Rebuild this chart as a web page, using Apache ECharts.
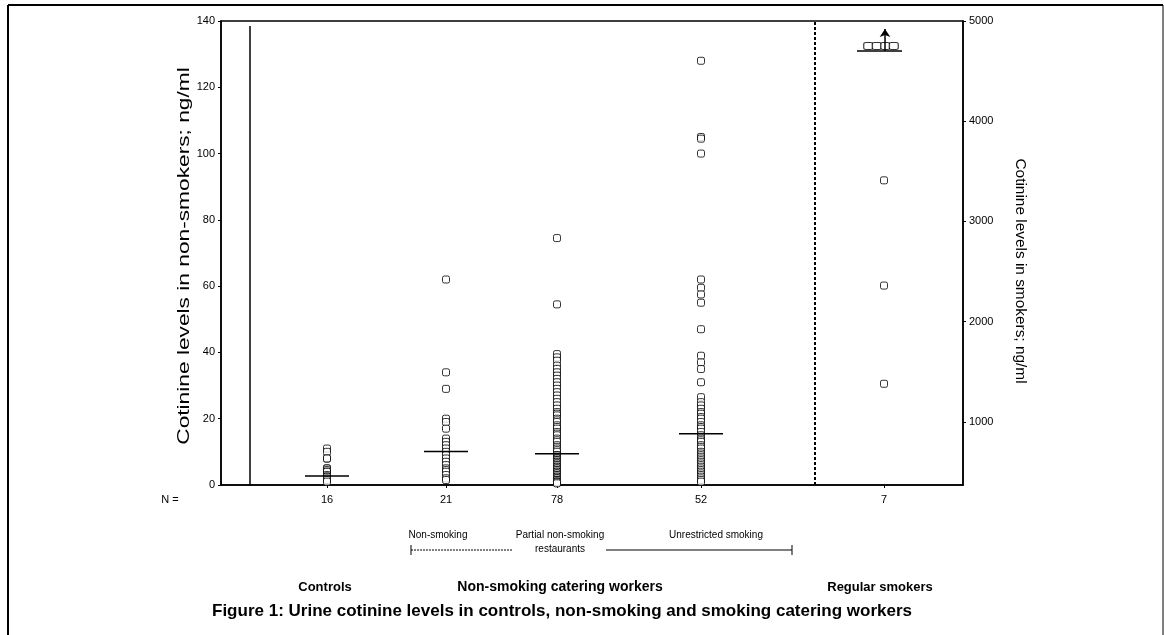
<!DOCTYPE html>
<html>
<head>
<meta charset="utf-8">
<script src="https://cdn.jsdelivr.net/npm/echarts@6/dist/echarts.min.js"></script>
<style>html,body{margin:0;padding:0;background:#fff;}#c{width:1164px;height:635px;}</style>
</head>
<body>
<div id="c"></div>
<script>
// ---- data ----
var groupNames = ['Controls', 'Non-smoking', 'Partial non-smoking', 'Unrestricted smoking', 'Regular smokers'];
var groupN = [16, 21, 78, 52, 7];
var groupPos = [106, 225, 336, 480, 663];          // horizontal slot of each group (x-axis units)
var controls = [11, 10, 8, 8, 5, 5, 4.5, 4, 4, 3, 2.5, 2.5, 2.5, 2, 1.5, 1];
var nonSmoking = [62, 34, 29, 20, 19, 17, 14, 13, 12, 11, 10, 9, 8, 7, 6, 5, 4.5, 4, 3, 2, 1.5];
var partialNonSmoking = [74.5, 54.5, 39.5, 38.5, 37.5, 36, 35, 34, 33, 32, 31, 30, 29, 28, 27, 26, 25, 24, 23, 22,
  21.5, 21, 20, 19.5, 19, 18, 17.5, 17, 16, 15.5, 15, 14, 13.5, 13, 12, 11.5, 11, 10.5, 10,
  9, 9, 8.5, 8.5, 8, 8, 7.5, 7.5, 7, 7, 6.5, 6.5, 6, 6, 5.5, 5.5, 5, 5, 4.5, 4.5, 4, 4, 3.5, 3.5,
  3, 3, 2.5, 2.5, 2, 2, 2, 1.5, 1.5, 1.5, 1, 1, 1, 0.8, 0.5];
var unrestrictedSmoking = [128, 105, 104.5, 100, 62, 59.5, 57.5, 55, 47, 39, 37, 35, 31, 26.5, 25, 24, 23, 22, 21.5,
  20.5, 20, 19, 18, 17.5, 17, 16, 15, 14, 13.5, 13, 12, 11.5, 11, 10, 9.5, 9, 8.5, 8, 7.5, 7, 6.5, 6, 5.5, 5,
  4.5, 4, 3.5, 3, 2.5, 2, 1.5, 1];
var regularSmokers = [3410, 2360, 1380];           // right axis, ng/ml
var offScaleCount = 4;                              // smokers above the 5000 scale
var offScaleValue = 4750;
var medians = [2.7, 10.1, 9.4, 15.5];
var leftTicks = [0, 20, 40, 60, 80, 100, 120, 140];
var rightTicks = [1000, 2000, 3000, 4000, 5000];

var FONT = "'Liberation Sans', Arial, sans-serif";
var chart = echarts.init(document.getElementById('c'));

function pts(pos, arr) { return arr.map(function (v) { return [pos, v]; }); }
var symStyle = { color: '#fff', borderColor: '#000', borderWidth: 1 };

var groupsLeft = [controls, nonSmoking, partialNonSmoking, unrestrictedSmoking];
var series = [];
groupsLeft.forEach(function (arr, i) {
  series.push({
    type: 'scatter', name: groupNames[i], xAxisIndex: 0, yAxisIndex: 0,
    data: pts(groupPos[i], arr), symbol: 'roundRect', symbolSize: 7,
    itemStyle: symStyle, z: 3, silent: true
  });
});
series.push({
  type: 'scatter', name: groupNames[4], xAxisIndex: 0, yAxisIndex: 1,
  data: pts(groupPos[4], regularSmokers), symbol: 'roundRect', symbolSize: 7,
  itemStyle: symStyle, z: 3, silent: true
});
// off-scale smokers: squares side by side at the top, underline and arrow
var offOffsets = [];
for (var k = 0; k < offScaleCount; k++) offOffsets.push((k - (offScaleCount - 1) / 2) * 8.5 - 3);
series.push({
  type: 'scatter', name: 'off-scale', xAxisIndex: 0, yAxisIndex: 1,
  data: offOffsets.map(function (o) { return [groupPos[4] + o, offScaleValue]; }),
  symbol: 'roundRect', symbolSize: [9, 7], itemStyle: symStyle, z: 3, silent: true,
  markLine: {
    silent: true, animation: false, label: { show: false },
    lineStyle: { color: '#000', width: 1.5, type: 'solid' },
    data: [
      [{ coord: [groupPos[4] - 27, offScaleValue - 50], symbol: 'none' }, { coord: [groupPos[4] + 18, offScaleValue - 50], symbol: 'none' }],
      [{ coord: [groupPos[4] + 1, offScaleValue - 50], symbol: 'none' }, { coord: [groupPos[4] + 1, offScaleValue + 170], symbol: 'arrow', symbolSize: [8, 8] }]
    ]
  }
});
// medians
medians.forEach(function (m, i) {
  series.push({
    type: 'line', name: 'median ' + groupNames[i], xAxisIndex: 0, yAxisIndex: 0,
    data: [[groupPos[i] - 22, m], [groupPos[i] + 22, m]], showSymbol: false, symbol: 'none',
    lineStyle: { color: '#000', width: 1.5 }, z: 5, silent: true, animation: false
  });
});
// separator lines
series.push({
  type: 'line', name: 'separators', xAxisIndex: 0, yAxisIndex: 0, data: [], silent: true,
  markLine: {
    silent: true, animation: false, symbol: 'none', label: { show: false },
    data: [
      [{ coord: [29, 0], lineStyle: { color: '#000', width: 1.5, type: 'solid' } }, { coord: [29, 138.5] }],
      [{ coord: [594, 0], lineStyle: { color: '#000', width: 2, type: [3, 2] } }, { coord: [594, 140] }]
    ]
  }
});

var txt = function (t, x, y, size, bold) {
  return { type: 'text', silent: true, style: { text: t, x: x, y: y, fill: '#000', textAlign: 'center', textVerticalAlign: 'middle', font: (bold ? 'bold ' : '') + size + 'px ' + FONT } };
};
var vtxt = function (t, x, y, size, rot, stretch) {
  return { type: 'text', silent: true, x: x, y: y, rotation: rot, scaleX: stretch, scaleY: 1,
    style: { text: t, x: 0, y: 0, fill: '#000', textAlign: 'center', textVerticalAlign: 'middle', font: size + 'px ' + FONT } };
};
var ln = function (x1, y1, x2, y2, w, dash) {
  return { type: 'line', silent: true, shape: { x1: x1, y1: y1, x2: x2, y2: y2 }, style: { stroke: '#000', lineWidth: w, lineDash: dash || null } };
};

chart.setOption({
  animation: false,
  backgroundColor: '#fff',
  grid: { left: 221, right: 201, top: 21, bottom: 150, show: true, borderColor: '#000', borderWidth: 1.5 },
  xAxis: {
    type: 'value', min: 0, max: 742,
    axisLine: { show: true, lineStyle: { color: '#000', width: 1.5 } },
    axisTick: { show: true, customValues: groupPos, length: 3, lineStyle: { color: '#000' } },
    axisLabel: {
      show: true, customValues: groupPos, margin: 9, color: '#000', fontSize: 11, fontFamily: FONT,
      formatter: function (v) { var i = groupPos.indexOf(v); return i >= 0 ? String(groupN[i]) : ''; }
    },
    splitLine: { show: false }
  },
  yAxis: [{
    type: 'value', min: 0, max: 140, position: 'left',
    axisLine: { show: true, lineStyle: { color: '#000', width: 1.5 } },
    axisTick: { show: true, customValues: leftTicks, length: 3, lineStyle: { color: '#000' } },
    axisLabel: { customValues: leftTicks, margin: 6, color: '#000', fontSize: 11, fontFamily: FONT },
    splitLine: { show: false }
  }, {
    type: 'value', min: 370, max: 5000, position: 'right',
    axisLine: { show: true, lineStyle: { color: '#000', width: 1.5 } },
    axisTick: { show: true, customValues: rightTicks, length: 3, lineStyle: { color: '#000' } },
    axisLabel: { customValues: rightTicks, margin: 6, color: '#000', fontSize: 11, fontFamily: FONT,
      formatter: function (v) { return String(v); } },
    splitLine: { show: false }
  }],
  series: series,
  graphic: [
    ln(8, 5, 1163, 5, 2), ln(8, 5, 8, 635, 2), ln(1163, 5, 1163, 635, 1),
    vtxt('Cotinine levels in non-smokers; ng/ml', 185, 256, 16, Math.PI / 2, 1.42),
    vtxt('Cotinine levels in smokers; ng/ml', 1020, 271, 14, -Math.PI / 2, 1.1),
    txt('N =', 170, 500, 11, false),
    txt('Non-smoking', 438, 535, 10, false),
    txt('Partial non-smoking', 560, 535, 10, false),
    txt('Unrestricted smoking', 716, 535, 10, false),
    txt('restaurants', 560, 549, 10, false),
    ln(411, 550, 512, 550, 1, [2, 1]), ln(606, 550, 792, 550, 1),
    ln(411, 545, 411, 555, 1), ln(792, 545, 792, 555, 1),
    txt('Controls', 325, 587, 13, true),
    txt('Non-smoking catering workers', 560, 587, 14, true),
    txt('Regular smokers', 880, 587, 13, true),
    txt('Figure 1: Urine cotinine levels in controls, non-smoking and smoking catering workers', 562, 611, 17, true)
  ]
});
</script>
</body>
</html>
